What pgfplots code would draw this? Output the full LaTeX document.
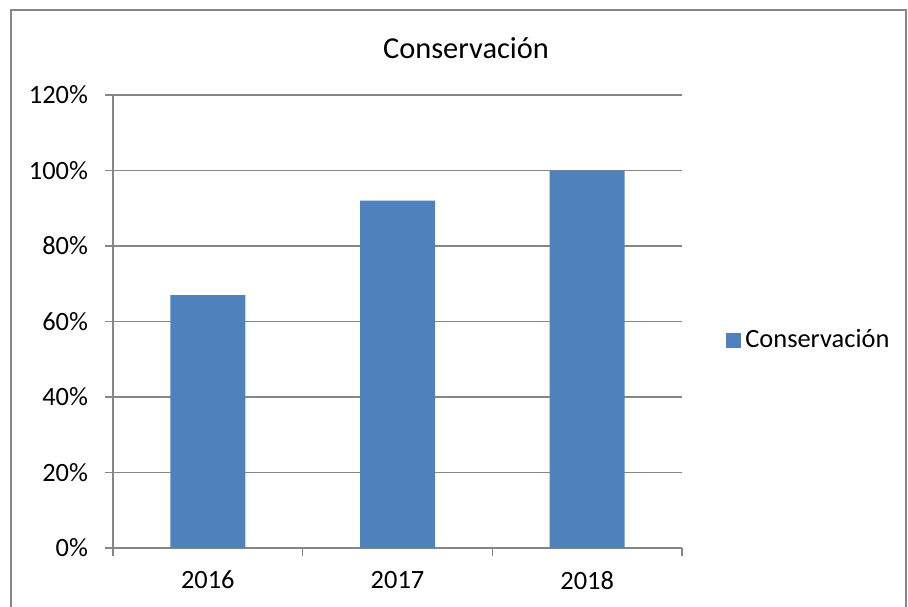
\documentclass[border=0pt]{standalone}
\usepackage{fontspec}
\setmainfont{Carlito}
\usepackage{pgfplots}
\pgfplotsset{compat=1.18}
\definecolor{barblue}{RGB}{79,129,189}
\definecolor{gridgray}{RGB}{134,134,134}
\begin{document}
\begin{tikzpicture}
  % 1 px of the reference = 0.5pt
  \useasboundingbox (0,0) rectangle (454pt,303pt);
  \draw[gridgray, line width=0.75pt] (5.5pt,-10pt) -- (5.5pt,298pt) -- (453pt,298pt) -- (453pt,-10pt);
  \node[font=\fontsize{15.2}{17}\selectfont] at (233pt,279pt) {Conservación};
  \begin{axis}[
      at={(56.5pt,29pt)}, anchor=south west,
      scale only axis,
      width=284.5pt, height=226.5pt,
      ybar, bar width=37.5pt,
      xmin=-0.5, xmax=2.5,
      ymin=0, ymax=120,
      xtick={-0.5,0.5,1.5,2.5},
      xticklabels={},
      extra x ticks={0,1,2},
      extra x tick labels={2016,2017,2018},
      extra x tick style={major tick length=0pt, xticklabel style={yshift=-8pt}},
      ytick={0,20,40,60,80,100,120},
      yticklabel={\pgfmathprintnumber{\tick}\%},
      axis lines*=left,
      axis line style={gridgray, line width=0.75pt},
      ymajorgrids=true,
      grid style={gridgray, line width=0.75pt},
      major tick style={gridgray, line width=0.75pt},
      tick align=outside,
      major tick length=4pt,
      tick label style={font=\fontsize{13.2}{15}\selectfont},
      /pgf/number format/assume math mode=true,
      yticklabel style={xshift=-5pt},
      legend style={at={(1.0668,0.459)}, anchor=west, draw=none,
        font=\fontsize{13.2}{15}\selectfont},
      legend image code/.code={\fill[barblue] (0pt,-3.75pt) rectangle (7.5pt,3.75pt);},
    ]
    \addplot[fill=barblue, draw=none] coordinates {(0,67) (1,92) (2,100)};
    \legend{Conservación}
  \end{axis}
\end{tikzpicture}
\end{document}
